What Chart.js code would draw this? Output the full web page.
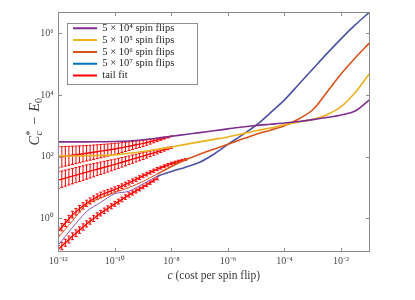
<!DOCTYPE html>
<html>
<head>
<meta charset="utf-8">
<script src="https://cdn.jsdelivr.net/npm/chart.js@4.4.1/dist/chart.umd.min.js"></script>
<style>
html,body{margin:0;padding:0;background:#ffffff;overflow:hidden;}
canvas{display:block;}
</style>
</head>
<body>
<canvas id="chart" width="415" height="300"></canvas>
<script>
// ---------------- data (values stored as log10 exponents) ----------------
const xTickExps = [-12, -10, -8, -6, -4, -2];
const yTickExps = [0, 2, 4, 6];
const seriesNames = ['5 × 10⁴ spin flips', '5 × 10⁵ spin flips', '5 × 10⁶ spin flips', '5 × 10⁷ spin flips', 'tail fit'];

// x positions of the main curves: log10(c)
const gridExp = [-12, -11.5, -11, -10.5, -10, -9.5, -9, -8.5, -8, -7.5, -7, -6.5, -6, -5.5, -5, -4.5, -4, -3.5, -3, -2.5, -2, -1.5, -1];
// log10(C*_c - E_0) for each budget
const purpleExp = [2.48, 2.48, 2.48, 2.485, 2.49, 2.51, 2.55, 2.60, 2.66, 2.72, 2.78, 2.84, 2.90, 2.96, 3.01, 3.05, 3.09, 3.14, 3.20, 3.27, 3.35, 3.48, 3.84];
const yellowExp = [2.02, 2.02, 2.03, 2.04, 2.06, 2.11, 2.17, 2.24, 2.31, 2.40, 2.48, 2.56, 2.64, 2.74, 2.84, 2.93, 3.03, 3.12, 3.21, 3.36, 3.62, 4.08, 4.69];
const orangeExp = [-0.62, -0.08, 0.45, 0.66, 0.84, 1.00, 1.20, 1.44, 1.68, 1.90, 2.08, 2.24, 2.40, 2.57, 2.73, 2.86, 3.00, 3.22, 3.52, 4.09, 4.68, 5.20, 5.68];
const blueExp = [-0.86, -0.30, 0.22, 0.52, 0.80, 0.88, 1.12, 1.36, 1.52, 1.66, 1.82, 2.08, 2.40, 2.70, 3.02, 3.42, 3.84, 4.34, 4.84, 5.34, 5.82, 6.27, 6.68];

// x positions of the tail-fit points: log10(c)
const fitGridExp = [-12, -11.875, -11.75, -11.625, -11.5, -11.375, -11.25, -11.125, -11, -10.875, -10.75, -10.625, -10.5, -10.375, -10.25, -10.125, -10, -9.875, -9.75, -9.625, -9.5, -9.375, -9.25, -9.125, -9, -8.875, -8.75, -8.625, -8.5, -8.375, -8.25, -8.125, -8, -7.875, -7.75, -7.625, -7.5];
// tail fits: centre (log10) and half-width of the error bar (decades)
const fit1Exp = [1.980, 1.996, 2.012, 2.028, 2.045, 2.061, 2.077, 2.094, 2.110, 2.127, 2.145, 2.162, 2.180, 2.197, 2.215, 2.232, 2.250, 2.272, 2.295, 2.317, 2.340, 2.362, 2.385, 2.407, 2.430, 2.459, 2.487, 2.516, 2.545, 2.574, 2.603, 2.631, 2.660];
const fit1Err = [0.340, 0.329, 0.318, 0.306, 0.295, 0.284, 0.273, 0.261, 0.250, 0.241, 0.232, 0.224, 0.215, 0.206, 0.197, 0.189, 0.180, 0.170, 0.160, 0.150, 0.140, 0.130, 0.120, 0.110, 0.100, 0.089, 0.078, 0.066, 0.055, 0.044, 0.033, 0.021, 0.010];
const fit2Exp = [1.240, 1.272, 1.305, 1.338, 1.370, 1.402, 1.435, 1.468, 1.500, 1.531, 1.562, 1.594, 1.625, 1.656, 1.688, 1.719, 1.750, 1.784, 1.818, 1.851, 1.885, 1.919, 1.952, 1.986, 2.020, 2.055, 2.090, 2.125, 2.160, 2.195, 2.230, 2.265, 2.300];
const fit2Err = [0.270, 0.265, 0.260, 0.255, 0.250, 0.245, 0.240, 0.235, 0.230, 0.223, 0.215, 0.208, 0.200, 0.193, 0.185, 0.178, 0.170, 0.163, 0.155, 0.148, 0.140, 0.133, 0.125, 0.118, 0.110, 0.100, 0.090, 0.080, 0.070, 0.060, 0.050, 0.040, 0.030];
const fit3Exp = [-0.420, -0.285, -0.150, -0.015, 0.120, 0.215, 0.310, 0.405, 0.490, 0.565, 0.635, 0.700, 0.760, 0.805, 0.850, 0.895, 0.940, 0.990, 1.045, 1.100, 1.150, 1.210, 1.265, 1.320, 1.380, 1.435, 1.490, 1.545, 1.600, 1.645, 1.690, 1.735, 1.780, 1.815, 1.850, 1.880, 1.905];
const fit3Err = [0.120, 0.118, 0.115, 0.113, 0.110, 0.108, 0.105, 0.103, 0.100, 0.098, 0.095, 0.093, 0.090, 0.088, 0.085, 0.083, 0.080, 0.078, 0.075, 0.073, 0.070, 0.068, 0.065, 0.063, 0.060, 0.058, 0.055, 0.053, 0.050, 0.048, 0.045, 0.043, 0.040, 0.038, 0.035, 0.033, 0.030];
const fit4Exp = [-1.000, -0.895, -0.790, -0.685, -0.580, -0.480, -0.380, -0.280, -0.180, -0.090, -0.005, 0.085, 0.170, 0.245, 0.320, 0.395, 0.470, 0.545, 0.615, 0.690, 0.760, 0.825, 0.890, 0.955, 1.020, 1.090, 1.160, 1.230, 1.300];
const fit4Err = [0.120, 0.118, 0.115, 0.113, 0.110, 0.108, 0.105, 0.103, 0.100, 0.098, 0.095, 0.093, 0.090, 0.088, 0.085, 0.083, 0.080, 0.078, 0.075, 0.073, 0.070, 0.068, 0.065, 0.063, 0.060, 0.058, 0.055, 0.053, 0.050];

// ---------------- styles ----------------
const FONT = 'Liberation Serif';
const lineColors = ['#7E2F8E', '#EDB120', '#D95319', '#4b52a6'];
const thinColors = [null, null, '#D95319', '#8a55b5'];
const legendColors = ['#7E2F8E', '#EDB120', '#D95319', '#0072BD', '#FF0000'];
const FIT_RED = '#FF0000';
const AXIS_GRAY = '#8a8a8a';
const TEXT_GRAY = '#3a3a3a';

const SUP = {'0':'⁰','1':'¹','2':'²','3':'³','4':'⁴','5':'⁵','6':'⁶','7':'⁷','8':'⁸','9':'⁹','-':'⁻'};
function pow10Label(v) {
  const e = Math.round(Math.log10(v));
  return '10' + String(e).split('').map(ch => SUP[ch]).join('');
}
const toPts = (xs, ys) => ys.map((y, i) => ({x: Math.pow(10, xs[i]), y: Math.pow(10, y)}));

// ---------------- datasets ----------------
const datasets = [];
[purpleExp, yellowExp, orangeExp, blueExp].forEach((arr, k) => {
  const ds = {
    label: seriesNames[k],
    data: toPts(gridExp, arr),
    borderColor: lineColors[k],
    borderWidth: 1.6,
    pointRadius: 0,
    fill: false,
    tension: 0.3,
    order: k
  };
  if (thinColors[k]) {
    ds.segment = {
      borderColor: c => (c.p1DataIndex <= 7 ? thinColors[k] : undefined),
      borderWidth: c => (c.p1DataIndex <= 7 ? 1 : undefined)
    };
  }
  datasets.push(ds);
});
[[fit1Exp, fit1Err], [fit2Exp, fit2Err], [fit3Exp, fit3Err], [fit4Exp, fit4Err]].forEach((p, k) => {
  datasets.push({
    label: seriesNames[4],
    data: toPts(fitGridExp, p[0]),
    xExp: fitGridExp.slice(0, p[0].length),
    cExp: p[0],
    errExp: p[1],
    borderColor: FIT_RED,
    borderWidth: 1.4,
    pointRadius: 0,
    fill: false,
    tension: 0,
    order: 10 + k
  });
});

// ---------------- plugins ----------------
const bgPlugin = {
  id: 'bg',
  beforeDraw(chart) {
    const {ctx, chartArea: a} = chart;
    ctx.save();
    ctx.fillStyle = '#ffffff';
    ctx.fillRect(0, 0, chart.width, chart.height);
    ctx.strokeStyle = '#8f8f8f';
    ctx.lineWidth = 1;
    const lx = Math.round(a.left + 9) + 0.5, ly = Math.round(a.top + 10.4) + 0.5;
    ctx.strokeRect(lx, ly, 130, 61);
    ctx.restore();
  }
};

const legendMovePlugin = {
  id: 'legendMove',
  afterLayout(chart) {
    const lg = chart.legend;
    if (!lg) return;
    const L = chart.chartArea.left + 13.4, T = chart.chartArea.top + 9.45;
    lg.left = L; lg.top = T; lg.right = L + lg.width; lg.bottom = T + lg.height;
  }
};

const errorBarPlugin = {
  id: 'errbars',
  beforeDatasetsDraw(chart) {
    const {ctx, chartArea: a, scales: {x, y}} = chart;
    ctx.save();
    ctx.beginPath();
    ctx.rect(a.left, a.top, a.right - a.left, a.bottom - a.top);
    ctx.clip();
    ctx.strokeStyle = FIT_RED;
    ctx.lineWidth = 1;
    chart.data.datasets.forEach(ds => {
      if (!ds.errExp) return;
      ds.cExp.forEach((c, i) => {
        const px = x.getPixelForValue(Math.pow(10, ds.xExp[i]));
        const yt = y.getPixelForValue(Math.pow(10, c + ds.errExp[i]));
        const yb = y.getPixelForValue(Math.pow(10, c - ds.errExp[i]));
        ctx.beginPath();
        ctx.moveTo(px, yt); ctx.lineTo(px, yb);
        ctx.moveTo(px - 1.5, yt); ctx.lineTo(px + 1.5, yt);
        ctx.moveTo(px - 1.5, yb); ctx.lineTo(px + 1.5, yb);
        ctx.stroke();
      });
    });
    ctx.restore();
  }
};

function measure(ctx, t, f) { ctx.font = f; return ctx.measureText(t).width; }

const framePlugin = {
  id: 'frame',
  afterDraw(chart) {
    const {ctx, chartArea: a, scales: {x, y}} = chart;
    ctx.save();
    const L = Math.floor(a.left) + 0.5, R = Math.floor(a.right) + 0.5;
    const T = Math.floor(a.top) + 0.5, B = Math.floor(a.bottom) + 0.5;
    ctx.strokeStyle = AXIS_GRAY;
    ctx.lineWidth = 1;
    ctx.strokeRect(L, T, R - L, B - T);
    const tl = 3.5;
    ctx.beginPath();
    xTickExps.forEach(e => {
      const px = Math.round(x.getPixelForValue(Math.pow(10, e))) + 0.5;
      ctx.moveTo(px, B); ctx.lineTo(px, B - tl);
      ctx.moveTo(px, T); ctx.lineTo(px, T + tl);
    });
    yTickExps.forEach(e => {
      const py = Math.round(y.getPixelForValue(Math.pow(10, e))) + 0.5;
      ctx.moveTo(L, py); ctx.lineTo(L + tl, py);
      ctx.moveTo(R, py); ctx.lineTo(R - tl, py);
    });
    ctx.stroke();

    // x title: "c (cost per spin flip)"
    ctx.fillStyle = TEXT_GRAY;
    ctx.textBaseline = 'alphabetic';
    ctx.textAlign = 'left';
    const fI = `italic 11.5px ${FONT}`, fR = `11.5px ${FONT}`;
    const w1 = measure(ctx, 'c', fI), w2 = measure(ctx, ' (cost per spin flip)', fR);
    let x0 = (a.left + a.right) / 2 - (w1 + w2) / 2;
    ctx.font = fI; ctx.fillText('c', x0, 278.5);
    ctx.font = fR; ctx.fillText(' (cost per spin flip)', x0 + w1, 278.5);

    // y title: C*_c − E_0 (rotated)
    ctx.translate(38.5, 122);
    ctx.rotate(-Math.PI / 2);
    const bI = `italic 14.5px ${FONT}`, bR = `14.5px ${FONT}`, sR = `10px ${FONT}`, sI = `italic 10px ${FONT}`;
    const wC = measure(ctx, 'C', bI);
    const wS = Math.max(measure(ctx, '*', sR), measure(ctx, 'c', sI)) + 0.5;
    const wM = measure(ctx, '−', bR);
    const wE = measure(ctx, 'E', bI);
    const w0 = measure(ctx, '0', sR);
    const gap = 5;
    const W = wC + wS + gap + wM + gap + wE + w0;
    let p = -W / 2;
    ctx.font = bI; ctx.fillText('C', p, 0); p += wC + 0.5;
    ctx.font = sR; ctx.fillText('*', p, -5.5);
    ctx.font = sI; ctx.fillText('c', p, 3.5);
    p += wS + gap;
    ctx.font = bR; ctx.fillText('−', p, 0); p += wM + gap;
    ctx.font = bI; ctx.fillText('E', p, 0); p += wE;
    ctx.font = sR; ctx.fillText('0', p, 3.5);
    ctx.restore();
  }
};

// ---------------- chart ----------------
new Chart(document.getElementById('chart'), {
  type: 'line',
  data: {datasets},
  options: {
    responsive: false,
    animation: false,
    devicePixelRatio: 1,
    events: [],
    layout: {padding: {left: 0, right: 45.7, top: 12.3, bottom: 0}},
    scales: {
      x: {
        type: 'logarithmic',
        min: Math.pow(10, -12),
        max: Math.pow(10, -1),
        afterBuildTicks: s => { s.ticks = xTickExps.map(e => ({value: Math.pow(10, e)})); },
        afterFit: s => { s.height = 48.3; },
        grid: {display: false, drawTicks: false},
        border: {display: false},
        ticks: {
          callback: v => pow10Label(v),
          font: {family: FONT, size: 10},
          color: '#4a4a4a',
          padding: 4,
          maxRotation: 0,
          autoSkip: false
        }
      },
      y: {
        type: 'logarithmic',
        min: Math.pow(10, -1.08),
        max: Math.pow(10, 6.68),
        afterBuildTicks: s => { s.ticks = yTickExps.map(e => ({value: Math.pow(10, e)})); },
        afterFit: s => { s.width = 58.3; },
        grid: {display: false, drawTicks: false},
        border: {display: false},
        ticks: {
          callback: v => pow10Label(v),
          font: {family: FONT, size: 10},
          color: '#4a4a4a',
          padding: 4.5,
          autoSkip: false
        }
      }
    },
    plugins: {
      tooltip: {enabled: false},
      legend: {
        position: 'chartArea',
        align: 'start',
        labels: {
          font: {family: FONT, size: 10.5},
          color: '#262626',
          boxWidth: 24,
          boxHeight: 2,
          padding: 1.3,
          generateLabels: () => seriesNames.map((t, i) => ({
            text: t, fillStyle: legendColors[i], strokeStyle: legendColors[i],
            lineWidth: 0, hidden: false, datasetIndex: i, fontColor: '#262626'
          }))
        }
      }
    }
  },
  plugins: [bgPlugin, legendMovePlugin, errorBarPlugin, framePlugin]
});
</script>
</body>
</html>
